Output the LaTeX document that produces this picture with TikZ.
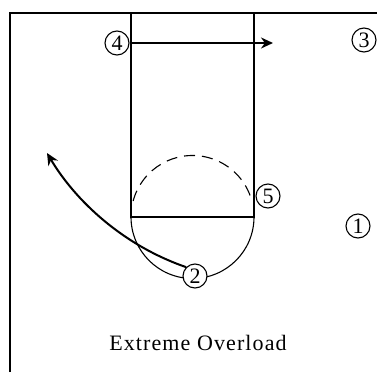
\documentclass[tikz,border=0pt]{standalone}
\usepackage{fontspec}
\setmainfont{Liberation Serif}
\newfontfamily\captionfont[LetterSpace=5]{Liberation Serif}
\usetikzlibrary{arrows.meta}
\begin{document}
\begin{tikzpicture}[x=1pt,y=1pt,
  player/.style={draw,circle,fill=white,line width=1.1pt,inner sep=0pt,
    minimum size=24pt,font=\fontsize{22}{22}\selectfont},
  line/.style={line width=1.1pt},
  move/.style={line width=2pt,-{Stealth[length=12pt,width=11pt]}}]
\useasboundingbox (0,0) rectangle (377,-372);
% court
\draw[line width=2pt] (10,-372) -- (10,-13) -- (377,-13);
\draw[line] (131,-13) -- (131,-217) -- (254,-217) -- (254,-13);
\draw[line] (131,-217) arc (180:360:61.5);
\draw[line,dash pattern=on 11pt off 7pt] (192.5,-217) ++(165:61.5) arc (165:15:61.5);
% players
\node[player] (p4) at (117,-43) {4};
\node[player] (p3) at (364,-40) {3};
\node[player] (p5) at (268,-196) {5};
\node[player] (p1) at (358,-226) {1};
\node[player] (p2) at (195,-276) {2};
\coordinate (e4) at (273,-43);
\coordinate (e2) at (47,-153);
% moves
\draw[move] (p4.east) -- (e4);
\draw[move] (p2.north west) .. controls (122,-245) and (75,-200) .. (e2);
\node[font=\captionfont\fontsize{22}{26}\selectfont] (title) at (198,-343) {Extreme Overload};
\end{tikzpicture}
\end{document}
